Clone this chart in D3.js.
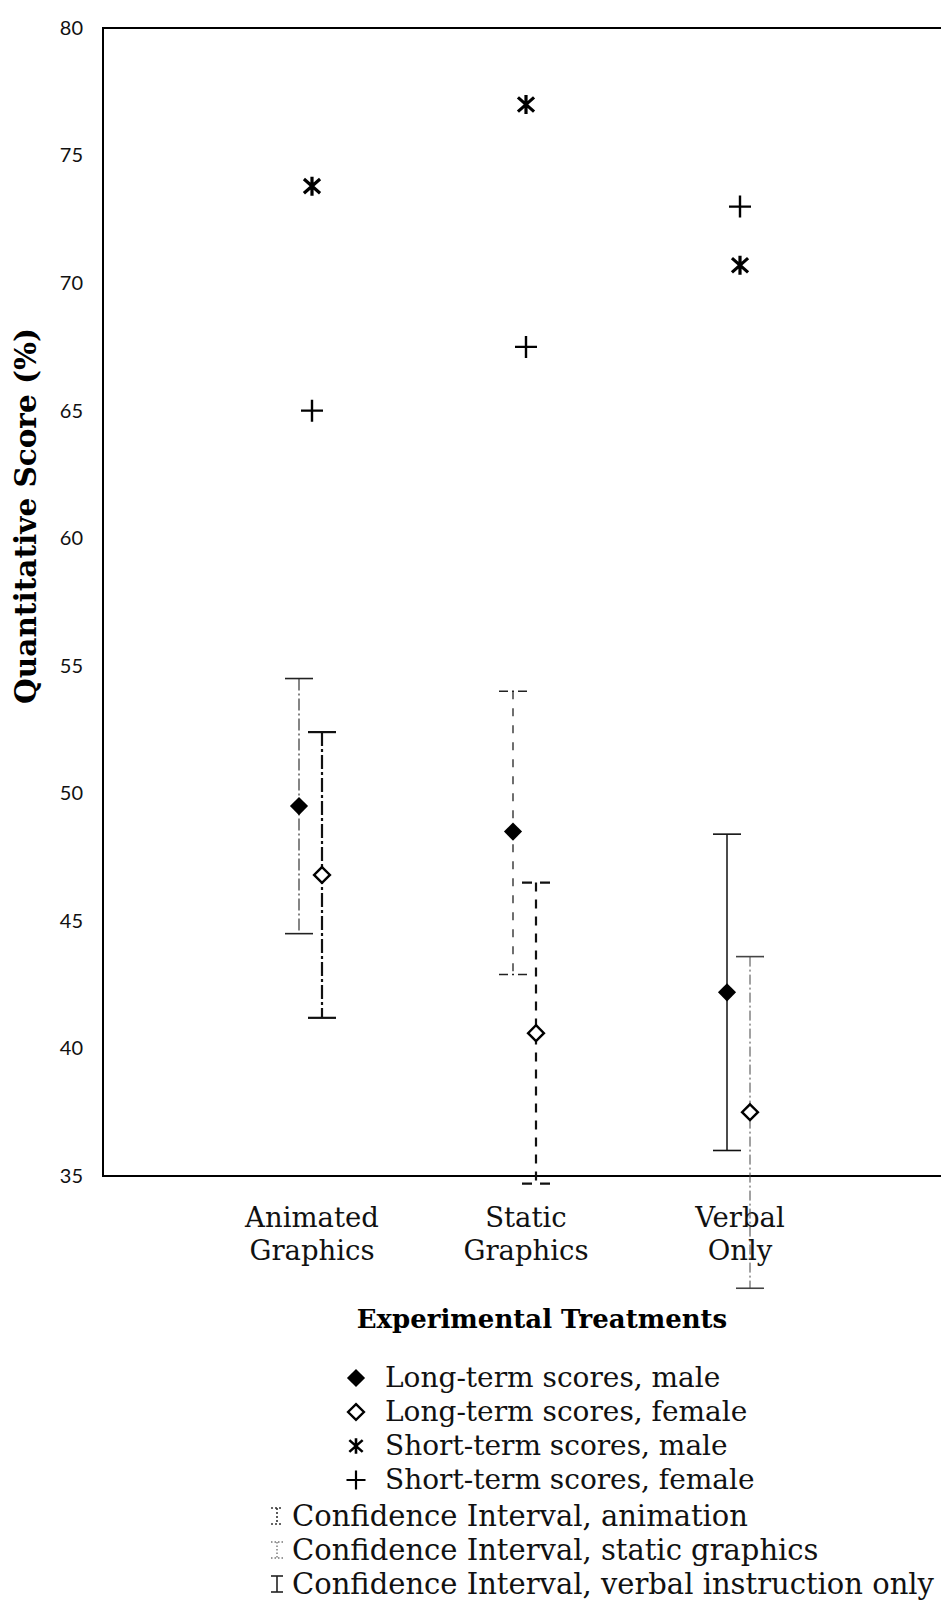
<!DOCTYPE html>
<html>
<head>
<meta charset="utf-8">
<script src="https://cdn.jsdelivr.net/npm/d3@7"></script>
<style>
  html, body { margin: 0; padding: 0; background: #fff; }
  svg { display: block; }
</style>
</head>
<body>
<svg id="chart" width="941" height="1611"></svg>
<script>
// Treatment groups along the horizontal axis
const categories = ["Animated Graphics", "Static Graphics", "Verbal Only"];
const categoryLines = [["Animated", "Graphics"], ["Static", "Graphics"], ["Verbal", "Only"]];

// Long-term scores with confidence intervals (%)
const longMale = [49.5, 48.5, 42.2];
const longMaleLow = [44.5, 42.9, 36.0];
const longMaleHigh = [54.5, 54.0, 48.4];
const longFemale = [46.8, 40.6, 37.5];
const longFemaleLow = [41.2, 34.7, 30.6];
const longFemaleHigh = [52.4, 46.5, 43.6];

// Short-term scores (%)
const shortMale = [73.8, 77.0, 70.7];
const shortFemale = [65.0, 67.5, 73.0];

// Vertical axis
const yTicks = [35, 40, 45, 50, 55, 60, 65, 70, 75, 80];
const yDomain = [35, 80];

// Legend entries
const markerLegend = ["Long-term scores, male", "Long-term scores, female",
                      "Short-term scores, male", "Short-term scores, female"];
const intervalLegend = ["Confidence Interval, animation",
                        "Confidence Interval, static graphics",
                        "Confidence Interval, verbal instruction only"];

// Line styles of the interval whiskers, one per treatment
const whiskerStyle = [
  { male:   { width: 1.1, dash: "12,3,2,3", capDash: null, color: "#222" },
    female: { width: 2.2, dash: "14,3,3,3", capDash: null, color: "#111" } },
  { male:   { width: 1.3, dash: "8,9",      capDash: "9,4,2,4,9", color: "#222" },
    female: { width: 2.2, dash: "9,8",      capDash: "10,8,10",   color: "#111" } },
  { male:   { width: 1.5, dash: null,       capDash: null, color: "#111" },
    female: { width: 1.0, dash: "10,3,2,3", capDash: null, color: "#444" } }
];

const plot = { left: 103, top: 28, right: 941, bottom: 1176 };
const serif = "'DejaVu Serif', 'Liberation Serif', serif";

const svg = d3.select("#chart");

const y = d3.scaleLinear().domain(yDomain).range([plot.bottom, plot.top]);
const x = d3.scalePoint().domain(categories).range([312, 740]);
const offset = { male: -13, female: 10 };

// Six-armed star: an X with a vertical stroke through it
const starSymbol = {
  draw(context, size) {
    const r = Math.sqrt(size) * 0.6;
    const dx = r * 0.85, dy = r * 0.75;
    context.moveTo(0, -r); context.lineTo(0, r);
    context.moveTo(-dx, -dy); context.lineTo(dx, dy);
    context.moveTo(-dx, dy); context.lineTo(dx, -dy);
  }
};

// Frame
const frame = svg.append("g").attr("stroke", "#000").attr("stroke-width", 2).attr("fill", "none");
frame.append("line").attr("x1", plot.left).attr("x2", plot.left).attr("y1", plot.top - 1).attr("y2", plot.bottom + 1);
frame.append("line").attr("x1", plot.left).attr("x2", plot.right).attr("y1", plot.top).attr("y2", plot.top);
frame.append("line").attr("x1", plot.left).attr("x2", plot.right).attr("y1", plot.bottom).attr("y2", plot.bottom);

// Y axis labels
const yAxis = svg.append("g")
  .attr("transform", `translate(${plot.left},0)`)
  .call(d3.axisLeft(y).tickValues(yTicks).tickSize(0).tickPadding(20));
yAxis.select(".domain").remove();
yAxis.selectAll("text")
  .attr("font-family", "Lato, 'Open Sans', sans-serif")
  .attr("font-size", 20)
  .attr("fill", "#111");

// Y axis title
svg.append("text")
  .attr("transform", `translate(36,516) rotate(-90)`)
  .attr("text-anchor", "middle")
  .attr("font-family", serif)
  .attr("font-weight", "bold")
  .attr("font-size", 29.5)
  .attr("fill", "#000")
  .text("Quantitative Score (%)");

// Category labels
categories.forEach((c, i) => {
  categoryLines[i].forEach((line, j) => {
    svg.append("text")
      .attr("x", x(c)).attr("y", 1227 + j * 33)
      .attr("text-anchor", "middle")
      .attr("font-family", serif)
      .attr("font-size", 27.5)
      .attr("fill", "#111")
      .text(line);
  });
});

// X axis title
svg.append("text")
  .attr("x", 542).attr("y", 1328)
  .attr("text-anchor", "middle")
  .attr("font-family", serif)
  .attr("font-weight", "bold")
  .attr("font-size", 26)
  .attr("fill", "#000")
  .text("Experimental Treatments");

// Confidence interval whiskers
const capHalf = 14;
function whisker(g, cx, lo, hi, st) {
  g.append("line")
    .attr("x1", cx).attr("x2", cx).attr("y1", y(hi)).attr("y2", y(lo))
    .attr("stroke", st.color).attr("stroke-width", st.width)
    .attr("stroke-dasharray", st.dash);
  [lo, hi].forEach(v => {
    g.append("line")
      .attr("x1", cx - capHalf).attr("x2", cx + capHalf)
      .attr("y1", y(v)).attr("y2", y(v))
      .attr("stroke", st.color).attr("stroke-width", Math.max(1.6, st.width))
      .attr("stroke-dasharray", st.capDash);
  });
}

const whiskers = svg.append("g");
categories.forEach((c, i) => {
  whisker(whiskers, x(c) + offset.male, longMaleLow[i], longMaleHigh[i], whiskerStyle[i].male);
  whisker(whiskers, x(c) + offset.female, longFemaleLow[i], longFemaleHigh[i], whiskerStyle[i].female);
});

// Markers
const diamond = d3.symbol().type(d3.symbolDiamond2).size(210);
const openDiamond = d3.symbol().type(d3.symbolDiamond2).size(160);
const asterisk = d3.symbol().type(starSymbol).size(250);
const plus = d3.symbol().type(d3.symbolPlus).size(160);

const marks = svg.append("g");
marks.selectAll(".lm").data(longMale).join("path")
  .attr("transform", (d, i) => `translate(${x(categories[i]) + offset.male},${y(d)})`)
  .attr("d", diamond).attr("fill", "#000");
marks.selectAll(".lf").data(longFemale).join("path")
  .attr("transform", (d, i) => `translate(${x(categories[i]) + offset.female},${y(d)})`)
  .attr("d", openDiamond).attr("fill", "#fff").attr("stroke", "#000").attr("stroke-width", 2.4);
marks.selectAll(".sm").data(shortMale).join("path")
  .attr("transform", (d, i) => `translate(${x(categories[i])},${y(d)})`)
  .attr("d", asterisk).attr("fill", "none").attr("stroke", "#000").attr("stroke-width", 3.2);
marks.selectAll(".sf").data(shortFemale).join("path")
  .attr("transform", (d, i) => `translate(${x(categories[i])},${y(d)})`)
  .attr("d", plus).attr("fill", "none").attr("stroke", "#000").attr("stroke-width", 2.4);

// Legend
const legend = svg.append("g").attr("font-family", serif).attr("fill", "#111");
const markerRowsY = [1387, 1421, 1455, 1489];
const markerShapes = [
  { d: diamond, fill: "#000", stroke: "none", sw: 0 },
  { d: openDiamond, fill: "#fff", stroke: "#000", sw: 2.4 },
  { d: d3.symbol().type(starSymbol).size(170), fill: "none", stroke: "#000", sw: 2.6 },
  { d: d3.symbol().type(d3.symbolPlus).size(120), fill: "none", stroke: "#000", sw: 2.2 }
];
markerLegend.forEach((label, i) => {
  const s = markerShapes[i];
  legend.append("path")
    .attr("transform", `translate(356,${markerRowsY[i] - 9})`)
    .attr("d", s.d).attr("fill", s.fill).attr("stroke", s.stroke).attr("stroke-width", s.sw);
  legend.append("text").attr("x", 385).attr("y", markerRowsY[i])
    .attr("font-size", 28).text(label);
});

const intervalRowsY = [1526, 1560, 1594];
const iconStyles = [
  { dash: "2,2", color: "#333", w: 1.6 },
  { dash: "1.5,2", color: "#777", w: 1.4 },
  { dash: null, color: "#222", w: 1.6 }
];
intervalLegend.forEach((label, i) => {
  const st = iconStyles[i];
  const cy = intervalRowsY[i] - 10, ix = 277, h = 8, hw = 6;
  const icon = legend.append("g").attr("stroke", st.color).attr("stroke-width", st.w)
    .attr("stroke-dasharray", st.dash).attr("fill", "none");
  icon.append("line").attr("x1", ix).attr("x2", ix).attr("y1", cy - h).attr("y2", cy + h);
  icon.append("line").attr("x1", ix - hw).attr("x2", ix + hw).attr("y1", cy - h).attr("y2", cy - h);
  icon.append("line").attr("x1", ix - hw).attr("x2", ix + hw).attr("y1", cy + h).attr("y2", cy + h);
  legend.append("text").attr("x", 292).attr("y", intervalRowsY[i])
    .attr("font-size", 29).text(label);
});
</script>
</body>
</html>
